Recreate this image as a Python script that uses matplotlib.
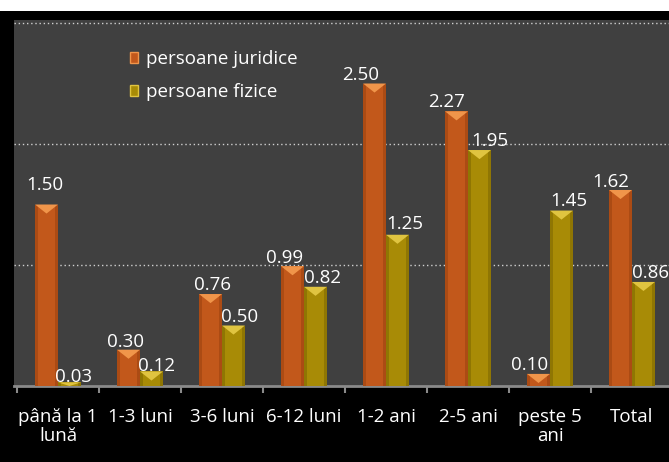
import matplotlib
matplotlib.use("Agg")
import matplotlib.pyplot as plt
from matplotlib.patches import Rectangle, Polygon, Patch
import numpy as np

categories = ["până la 1\nlună", "1-3 luni", "3-6 luni", "6-12 luni", "1-2 ani", "2-5 ani", "peste 5\nani", "Total"]
juridice = [1.50, 0.30, 0.76, 0.99, 2.50, 2.27, 0.10, 1.62]
fizice = [0.03, 0.12, 0.50, 0.82, 1.25, 1.95, 1.45, 0.86]
series_names = ["persoane juridice", "persoane fizice"]

# label offsets in pixels (style only)
off_j = [-2, -3, 2, -8, -14, -10, -9, -10]
off_f = [4, 5, 6, 7, 7, 10, 7, 7]
offy_j = [15, 3, 4, 3, 4, 4, 4, 3]
offy_f = [1, 1, 4, 4, 6, 4, 5, 4]

FONT = ["Open Sans", "DejaVu Sans"]
plt.rcParams['font.family'] = FONT

W, H = 669, 462
PT = 72 / 100  # pixels -> points
fig = plt.figure(figsize=(W / 100, H / 100), dpi=100, facecolor="white")
fig.patches.append(Rectangle((0, 0), 1, (H - 11) / H, transform=fig.transFigure,
                             facecolor="black", edgecolor="none", zorder=-10))

left_px, right_px, top_px, base_px = 14, 673, 20, 386
ax = fig.add_axes([left_px / W, (H - base_px) / H, (right_px - left_px) / W, (base_px - top_px) / H])
ax.set_facecolor("#404040")
ax.set_xlim(-0.5 - 3 / 82, 7.5)
ax.set_ylim(0, 3 + 3 / 121)

for g in [1, 2, 3]:
    ax.axhline(g, color="#d0d0d0", lw=1.0, ls=(0, (1, 2)), zorder=1)

w = 0.28
off = 0.14
cols = [("#C2581B", "#F0954A", "#8f3c0c"), ("#A88B06", "#E0C440", "#715d00")]
xs = np.arange(len(categories))
tri_h = 0.075

def draw_bar(xc, v, c):
    main, light, dark = c
    ax.bar(xc, v, width=w, color=main, edgecolor="none", zorder=3)
    ax.bar(xc - w / 2 + w * 0.06, v, width=w * 0.12, color=dark, alpha=0.45, edgecolor="none", zorder=3.1)
    ax.bar(xc + w / 2 - w * 0.06, v, width=w * 0.12, color=dark, alpha=0.45, edgecolor="none", zorder=3.1)
    h = min(tri_h, v)
    ax.add_patch(Polygon([(xc - w / 2, v), (xc + w / 2, v), (xc, v - h)], closed=True,
                         facecolor=light, edgecolor="none", zorder=3.2))

for i in range(len(categories)):
    draw_bar(xs[i] - off, juridice[i], cols[0])
    draw_bar(xs[i] + off, fizice[i], cols[1])

for i in range(len(categories)):
    ax.annotate(f"{juridice[i]:.2f}", (xs[i] - off, juridice[i]), xytext=(off_j[i] * PT, offy_j[i] * PT - 3),
                textcoords="offset points", ha="center", va="bottom", color="white", fontsize=13.5, zorder=5)
    ax.annotate(f"{fizice[i]:.2f}", (xs[i] + off, fizice[i]), xytext=(off_f[i] * PT, offy_f[i] * PT - 3),
                textcoords="offset points", ha="center", va="bottom", color="white", fontsize=13.5, zorder=5)

for s in ["top", "right", "left"]:
    ax.spines[s].set_visible(False)
ax.spines["bottom"].set_color("#8a8a8a")
ax.spines["bottom"].set_linewidth(2)
ax.set_yticks([])
ax.set_xticks(np.arange(-0.5, 8.0, 1.0), minor=False)
ax.set_xticklabels([])
ax.tick_params(axis="x", which="major", length=5, width=1.5, color="#8a8a8a")
ax.set_xticks(xs, minor=True)
ax.set_xticklabels(categories, minor=True, color="white", fontsize=13.5, linespacing=1.1)
ax.tick_params(axis="x", which="minor", length=0, pad=15.5)

handles = [Patch(facecolor=cols[0][0], edgecolor=cols[0][1]), Patch(facecolor=cols[1][0], edgecolor=cols[1][1])]
leg = ax.legend(handles, series_names, loc="upper left", bbox_to_anchor=(130 / W, 1 - 50 / H),
                bbox_transform=fig.transFigure, frameon=False, borderpad=0, borderaxespad=0,
                handlelength=0.4, handleheight=0.55, handletextpad=0.45, labelspacing=0.8,
                fontsize=13.5, labelcolor="white")

fig.savefig("out.png", dpi=100, facecolor=fig.get_facecolor())
